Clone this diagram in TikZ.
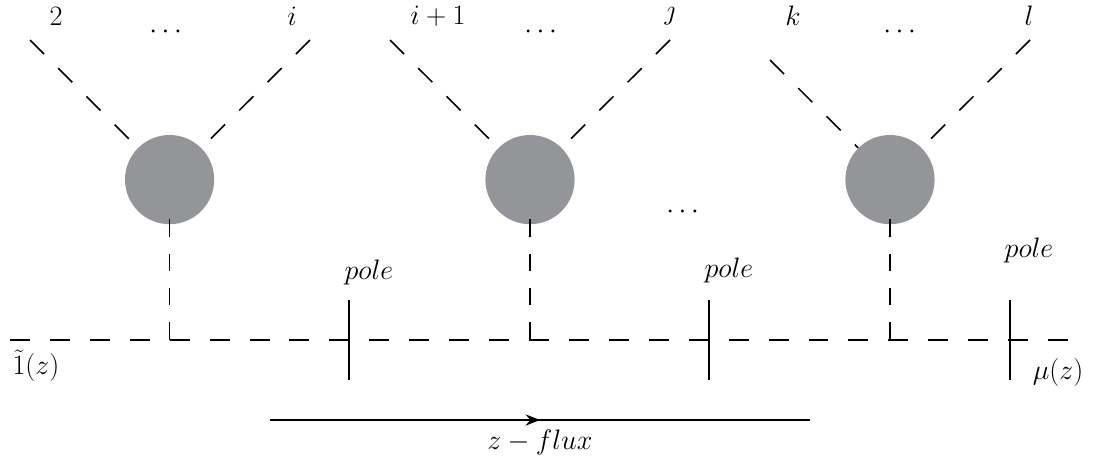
\RequirePackage{fix-cm}
\documentclass[tikz,border=0pt]{standalone}
\usepackage{amsmath,amssymb}
\usepackage{tikz}
\usetikzlibrary{arrows.meta,decorations.markings}
\definecolor{blobgray}{HTML}{939598}
\tikzset{prop/.style={dash pattern=on 14.2pt off 14.2pt,line width=1.1pt},wall/.style={line width=1.1pt},lbl/.style={font=\fontsize{20}{24}\selectfont,inner sep=1pt}}
\begin{document}
\begin{tikzpicture}[blob/.style={circle,fill=blobgray,minimum size=2.23cm,inner sep=0pt},stem/.style={dash pattern=on 12.2pt off 12.2pt,line width=1.1pt},flux/.style={line width=1.1pt,decoration={markings,mark=at position .5 with {\arrow{Stealth[length=3.6mm,width=2.8mm]}}},postaction={decorate}}]
\useasboundingbox (0,0) rectangle (27.65,-11.65);
% blobs and their legs
\node[blob] (b1) at (4.24,-4.49) {};
\node[blob] (b2) at (13.25,-4.49) {};
\node[blob] (b3) at (22.25,-4.49) {};
\coordinate (l1) at (0.75,-1);\coordinate (r1) at (7.75,-1);
\coordinate (l2) at (9.75,-1);\coordinate (r2) at (16.75,-1);
\coordinate (l3) at (19.25,-1.5);\coordinate (r3) at (25.75,-1);
\foreach \n in {1,2,3}{\draw[prop] (l\n)--(b\n);\draw[prop] (r\n)--(b\n);}
\node[lbl] (t2) at (1.4,-0.4) {$2$};
\node[lbl] (ti) at (7.3,-0.4) {$i$};
\node[lbl] (tii) at (10.95,-0.4) {$i+1$};
\node[lbl] (tj) at (16.75,-0.4) {$\jmath$};
\node[lbl] (tk) at (19.825,-0.4) {$k$};
\node[lbl] (tl) at (25.725,-0.4) {$l$};
\node[lbl] (d1) at (4.2,-0.8) {$\cdots$};
\node[lbl] (d2) at (13.575,-0.8) {$\cdots$};
\node[lbl] (d3) at (22.55,-0.8) {$\cdots$};
\node[lbl] (d4) at (17.125,-5.3) {$\cdots$};
% flux line
\coordinate (fa) at (0.25,-8.5);\coordinate (fb) at (26.75,-8.5);
\draw[prop] (fa)--(fb);
\foreach \n in {1,2,3}{\coordinate (j\n) at (b\n|-fa);\draw[stem] ([yshift=.125cm]b\n.south)--(j\n);}
% poles
\coordinate (p1) at (8.725,-8.5);\coordinate (p2) at (17.725,-8.5);\coordinate (p3) at (25.25,-8.5);
\foreach \n in {1,2,3}{\draw[wall] ([yshift=1cm]p\n)--([yshift=-1cm]p\n);}
\node[lbl] (q1) at (9.225,-6.8) {$pole$};
\node[lbl] (q2) at (18.225,-6.75) {$pole$};
\node[lbl] (q3) at (25.725,-6.25) {$pole$};
\node[lbl] (lin) at (0.9,-9.15) {$\tilde{1}(z)$};
\node[lbl] (lout) at (26.45,-9.3) {$\mu(z)$};
% direction
\coordinate (za) at (6.75,-10.5);\coordinate (zb) at (20.25,-10.5);
\draw[flux] (za)--(zb);
\node[lbl] (zl) at (13.5,-11.05) {$z-flux$};
\end{tikzpicture}
\end{document}
